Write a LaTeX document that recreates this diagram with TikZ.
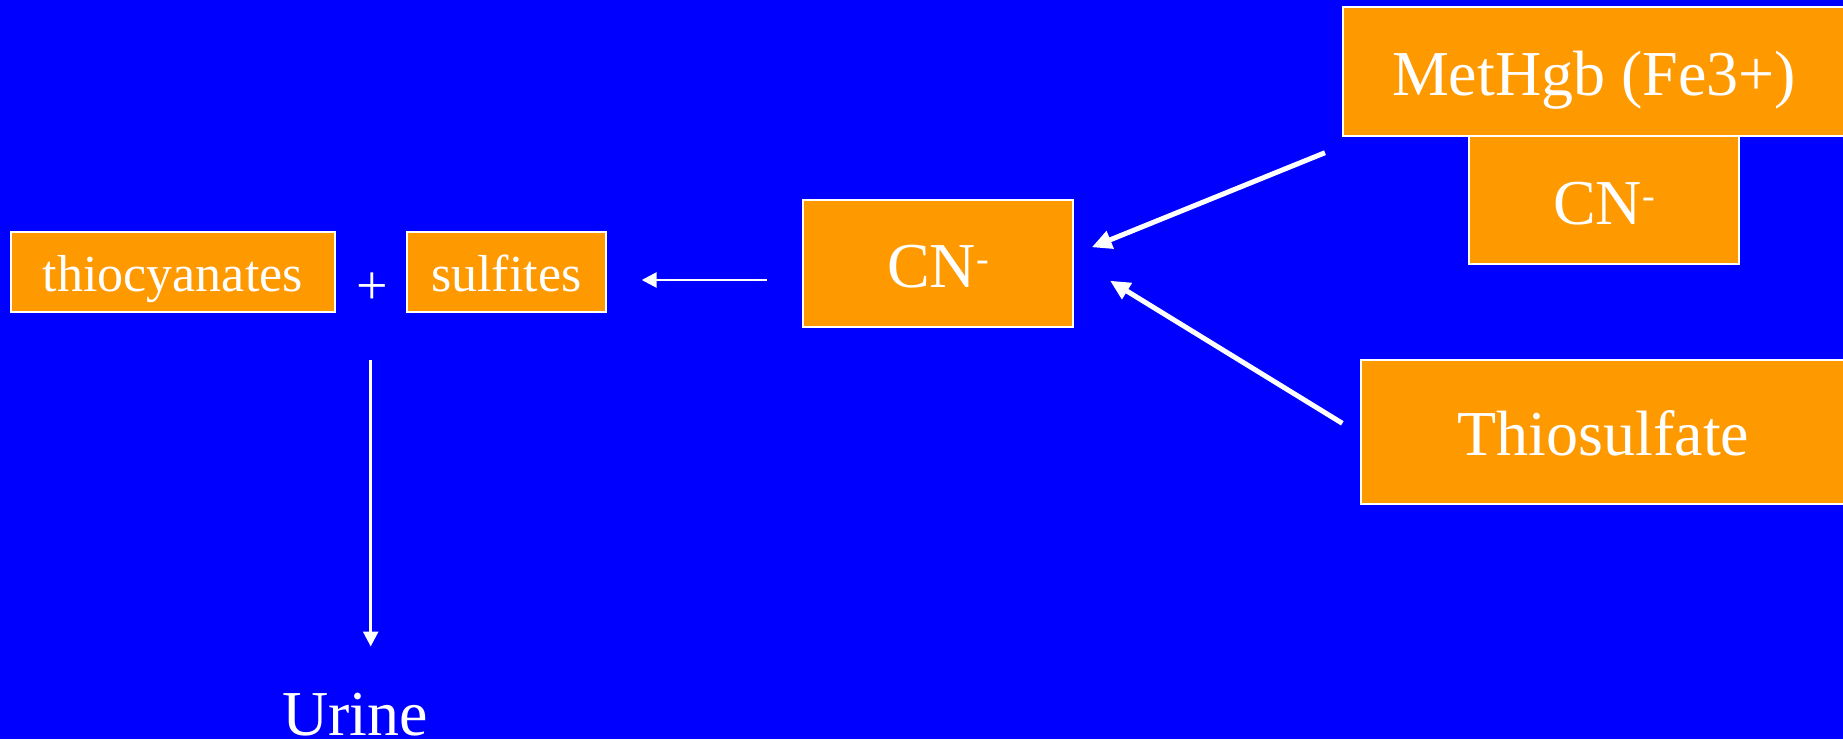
\documentclass[tikz,border=0pt]{standalone}
\usepackage{fontspec}
\setmainfont{Liberation Serif}
\usetikzlibrary{arrows.meta}
\definecolor{slideblue}{RGB}{0,0,255}
\definecolor{boxorange}{RGB}{255,153,0}
\newcommand{\fs}[1]{\fontsize{#1}{#1}\selectfont}
\newcommand{\cnion}{CN\raisebox{16pt}{\fs{38}-}}
\tikzset{
  chembox/.style={draw=white, fill=boxorange, line width=2pt, text=white,
    inner sep=0pt, text depth=0pt, align=center},
  smallbox/.style={chembox, font=\fs{52}, text height=40pt},
  bigbox/.style={chembox, font=\fs{64}, text height=48.6pt},
  thinarrow/.style={draw=white, line width=2.7pt,
    -{Triangle[length=15pt,width=15pt]}},
  thickarrow/.style={draw=white, line width=5pt,
    -{Triangle[length=20pt,width=18pt]}},
  plainlabel/.style={text=white, inner sep=0pt}
}
\begin{document}
\begin{tikzpicture}[x=1pt,y=-1pt]
  % slide background
  \fill[slideblue] (0,0) rectangle (1843,739);
  \useasboundingbox (0,0) rectangle (1843,739);
  \clip (0,0) rectangle (1843,739);

  % products
  \node[smallbox, minimum width=324pt, minimum height=80pt] (thio) at (172.8,271.7) {thiocyanates};
  \node[plainlabel, font=\fs{56}] (plus) at (372,289) {+};
  \node[smallbox, minimum width=199pt, minimum height=80pt] (sulf) at (506.2,271.7) {sulfites};

  % free cyanide
  \node[bigbox, minimum width=270pt, minimum height=127pt] (cn) at (938,263.5) {\cnion};

  % methaemoglobin binding cyanide
  \node[bigbox, minimum width=270pt, minimum height=128.5pt] (cnb) at (1604,200) {\cnion};
  \node[bigbox, minimum width=503pt, minimum height=128.2pt] (met) at (1594,71.4) {MetHgb (Fe3+)};

  % thiosulfate donor
  \node[bigbox, minimum width=485pt, minimum height=144pt] (thios) at (1603.5,431.5) {Thiosulfate};

  % excretion
  \node[plainlabel, font=\fs{64}, anchor=base] (urine) at (355,735.4) {Urine};

  % connector end points
  \coordinate (cnout) at (766.7,280);
  \coordinate (sulfin) at (641.7,280);
  \coordinate (metout) at (1325,152.7);
  \coordinate (cnin1) at (1091.7,247.3);
  \coordinate (thiosout) at (1342.3,423.3);
  \coordinate (cnin2) at (1110,280.7);
  \coordinate (plusout) at (370.7,360);
  \coordinate (urinein) at (370.7,646.5);

  \draw[thinarrow] (cnout) -- (sulfin);
  \draw[thickarrow] (metout) -- (cnin1);
  \draw[thickarrow] (thiosout) -- (cnin2);
  \draw[thinarrow] (plusout) -- (urinein);
\end{tikzpicture}
\end{document}
